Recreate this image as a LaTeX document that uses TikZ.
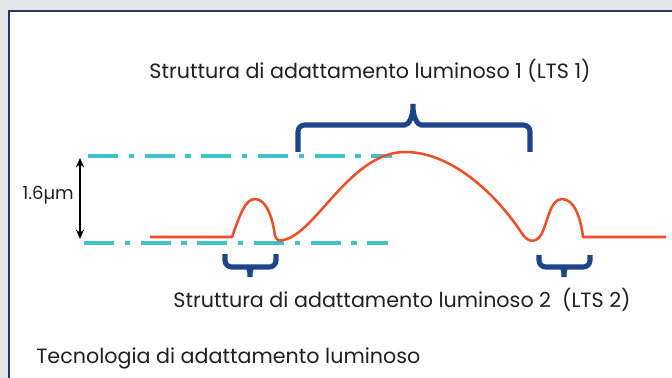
\documentclass[tikz,border=0pt]{standalone}
\usepackage{fontspec}
\setmainfont{Poppins}
\usetikzlibrary{arrows.meta}
\definecolor{ltsBack}{HTML}{E6E7E8}
\definecolor{ltsFrame}{HTML}{2B3467}
\definecolor{ltsCyan}{HTML}{40C2CD}
\definecolor{ltsRed}{HTML}{EE4E2A}
\definecolor{ltsBrace}{HTML}{1D4388}
\definecolor{ltsText}{HTML}{231F20}

\begin{document}
\begin{tikzpicture}[
    x=0.75pt, y=-0.75pt,
    every node/.style={font=\fontsize{15.5}{18}\selectfont, text=ltsText, inner sep=0pt},
    guide/.style={ltsCyan, line width=2.6pt, dash pattern=on 22.5pt off 8pt on 4pt off 8pt},
    profile/.style={ltsRed, line width=1.9pt, line join=round},
    brace/.style={ltsBrace, line width=3.8pt, rounded corners=5pt},
  ]
  \useasboundingbox (0,0) rectangle (672,378);

  % Panel
  \fill[ltsBack] (0,0) rectangle (672,378);
  \draw[ltsFrame, line width=1.2pt, fill=white] (9,11) rectangle (700,410);

  % Reference levels, 1.6 um apart
  \draw[guide] (88,156) -- (392,156);
  \draw[guide] (84,243) -- (388,243);

  \coordinate (gapTop) at (80,158);
  \coordinate (gapBot) at (80,239);
  \draw[line width=1.1pt, {Stealth[length=7pt,width=6pt]}-{Stealth[length=7pt,width=6pt]}] (gapTop) -- (gapBot);
  \node[anchor=east, font=\fontsize{13.5}{16}\selectfont] (gap) at (74,195) {1.6µm};

  % Surface profile: small bumps (LTS 2) and the large hump (LTS 1)
  \draw[profile] (150,237) -- (232,237)
    .. controls (240,215) and (245,199) .. (255,199)
    .. controls (267,199) and (273,220) .. (275,236)
    .. controls (277,241) and (280,241) .. (283,240)
    .. controls (315,235) and (350,152) .. (405,152)
    .. controls (455,152) and (500,200) .. (521,232)
    .. controls (527,242) and (535,244) .. (541,235)
    .. controls (548,222) and (550,199) .. (562,199)
    .. controls (575,199) and (581,220) .. (583,237)
    -- (666,237);

  % Brace over the large hump
  \draw[brace] (298,152) -- (298,125) -- (398,125)
    .. controls (409,125) and (413,116) .. (413,100)
    .. controls (413,116) and (417,125) .. (428,125)
    -- (530,125) -- (530,152);

  % Braces under the small bumps
  \draw[brace] (225,254) -- (225,267) -- (242,267)
    .. controls (248,267) and (250,271) .. (250,281)
    .. controls (250,271) and (252,267) .. (258,267)
    -- (276,267) -- (276,254);
  \draw[brace] (539,255) -- (539,267) -- (556,267)
    .. controls (562,267) and (564,271) .. (564,281)
    .. controls (564,271) and (566,267) .. (572,267)
    -- (590,267) -- (590,255);

  % Labels
  \node (lts1) at (370,71) {Struttura di adattamento luminoso 1 (LTS 1)};
  \node (lts2) at (402,300) {Struttura di adattamento luminoso 2~ (LTS 2)};
  \node[anchor=west] (caption) at (36,358) {Tecnologia di adattamento luminoso};
\end{tikzpicture}
\end{document}
